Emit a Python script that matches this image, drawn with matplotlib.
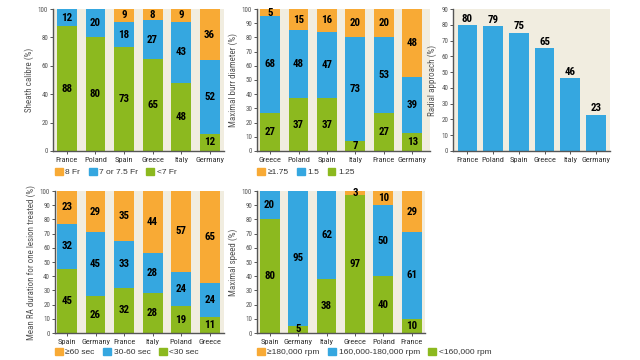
import matplotlib
matplotlib.use('Agg')
import matplotlib.pyplot as plt
from matplotlib.patches import Patch

GREEN = '#8cb91f'
BLUE = '#35a7e0'
ORANGE = '#f8aa35'
BEIGE = '#f1ede0'
GREY = '#555555'

# panel 1: sheath calibre
sheath_countries = ['France', 'Poland', 'Spain', 'Greece', 'Italy', 'Germany']
sheath_small = [88, 80, 73, 65, 48, 12]
sheath_mid = [12, 20, 18, 27, 43, 52]
sheath_large = [0, 0, 9, 8, 9, 36]
sheath_legend = ['8 Fr', '7 or 7.5 Fr', '<7 Fr']

# panel 2: maximal burr diameter
burr_countries = ['Greece', 'Poland', 'Spain', 'Italy', 'France', 'Germany']
burr_small = [27, 37, 37, 7, 27, 13]
burr_mid = [68, 48, 47, 73, 53, 39]
burr_large = [5, 15, 16, 20, 20, 48]
burr_legend = ['\u22651.75', '1.5', '1.25']

# panel 3: radial approach
radial_countries = ['France', 'Poland', 'Spain', 'Greece', 'Italy', 'Germany']
radial_values = [80, 79, 75, 65, 46, 23]

# panel 4: RA duration
dur_countries = ['Spain', 'Germany', 'France', 'Italy', 'Poland', 'Greece']
dur_short = [45, 26, 32, 28, 19, 11]
dur_mid = [32, 45, 33, 28, 24, 24]
dur_long = [23, 29, 35, 44, 57, 65]
dur_legend = ['\u226560 sec', '30-60 sec', '<30 sec']

# panel 5: maximal speed
speed_countries = ['Spain', 'Germany', 'Italy', 'Greece', 'Poland', 'France']
speed_low = [80, 5, 38, 97, 40, 10]
speed_mid = [20, 95, 62, 0, 50, 61]
speed_high = [0, 0, 0, 3, 10, 29]
speed_legend = ['\u2265180,000 rpm', '160,000-180,000 rpm', '<160,000 rpm']

NARROW = ['Roboto Condensed', 'DejaVu Sans']
PLAIN = ['Liberation Sans', 'DejaVu Sans']


def style_axes(ax, countries, ylabel, ymax, ystep, xlim):
    ax.set_facecolor(BEIGE)
    for s in ['top', 'right']:
        ax.spines[s].set_visible(False)
    for s in ['left', 'bottom']:
        ax.spines[s].set_color(GREY)
        ax.spines[s].set_linewidth(1.0)
    ax.set_ylim(0, ymax)
    ax.set_xlim(*xlim)
    ax.set_yticks(range(0, ymax + 1, ystep))
    ax.set_xticks(range(len(countries)))
    ax.set_xticklabels(countries)
    ax.tick_params(axis='y', labelsize=5, colors=GREY, length=2, width=0.7, pad=1.5)
    ax.tick_params(axis='x', labelsize=6, colors=GREY, length=2, width=0.7, pad=2)
    for lab in ax.get_xticklabels():
        lab.set_family(NARROW)
        lab.set_color('#333333')
    for lab in ax.get_yticklabels():
        lab.set_family(NARROW)
        lab.set_color(GREY)
    ax.set_ylabel(ylabel, fontsize=6.5, color=GREY, labelpad=3, family=NARROW)


def stacked(ax, countries, series, colors, width=0.7):
    x = range(len(countries))
    bottom = [0] * len(countries)
    for vals, col in zip(series, colors):
        ax.bar(x, vals, width, bottom=bottom, color=col, linewidth=0)
        for i, v in enumerate(vals):
            if v > 0:
                ax.text(i, bottom[i] + v / 2, str(v), ha='center', va='center',
                        fontsize=7.8, fontweight='bold', family=NARROW, color='black')
        bottom = [b + v for b, v in zip(bottom, vals)]


def add_legend(fig, labels, x, y):
    handles = [Patch(color=c) for c in [ORANGE, BLUE, GREEN]]
    fig.legend(handles, labels, loc='center left', bbox_to_anchor=(x, y), ncol=3,
               frameon=False, prop={'family': PLAIN, 'size': 6.0},
               handlelength=0.95, handleheight=0.95,
               handletextpad=0.3, columnspacing=1.0, borderpad=0, borderaxespad=0,
               labelcolor='#333333')


fig = plt.figure(figsize=(6.4, 3.6), dpi=100)

ax1 = fig.add_axes([0.0828, 0.5806, 0.267, 0.3944])
stacked(ax1, sheath_countries, [sheath_small, sheath_mid, sheath_large], [GREEN, BLUE, ORANGE])
style_axes(ax1, sheath_countries, 'Sheath calibre (%)', 100, 20, (-0.49, 5.5))
add_legend(fig, sheath_legend, 0.086, 1 - 172 / 360)

ax2 = fig.add_axes([0.4016, 0.5806, 0.270, 0.3944])
stacked(ax2, burr_countries, [burr_small, burr_mid, burr_large], [GREEN, BLUE, ORANGE])
style_axes(ax2, burr_countries, 'Maximal burr diameter (%)', 100, 10, (-0.46, 5.62))
add_legend(fig, burr_legend, 0.4016, 1 - 172 / 360)

ax3 = fig.add_axes([0.7078, 0.5806, 0.245, 0.3944])
ax3.bar(range(len(radial_countries)), radial_values, 0.76, color=BLUE, linewidth=0)
for i, v in enumerate(radial_values):
    ax3.text(i, v + 0.8, str(v), ha='center', va='bottom', fontsize=7.8,
             fontweight='bold', family=NARROW, color='black')
style_axes(ax3, radial_countries, 'Radial approach (%)', 90, 10, (-0.56, 5.54))

ax4 = fig.add_axes([0.0859, 0.075, 0.264, 0.3944])
stacked(ax4, dur_countries, [dur_short, dur_mid, dur_long], [GREEN, BLUE, ORANGE])
style_axes(ax4, dur_countries, 'Mean RA duration for one lesion treated (%)', 100, 10, (-0.42, 5.5))
add_legend(fig, dur_legend, 0.086, 1 - 352 / 360)

ax5 = fig.add_axes([0.4016, 0.075, 0.2625, 0.3944])
stacked(ax5, speed_countries, [speed_low, speed_mid, speed_high], [GREEN, BLUE, ORANGE])
style_axes(ax5, speed_countries, 'Maximal speed (%)', 100, 10, (-0.44, 5.46))
add_legend(fig, speed_legend, 0.4016, 1 - 352 / 360)

fig.savefig('out.png', dpi=100)
